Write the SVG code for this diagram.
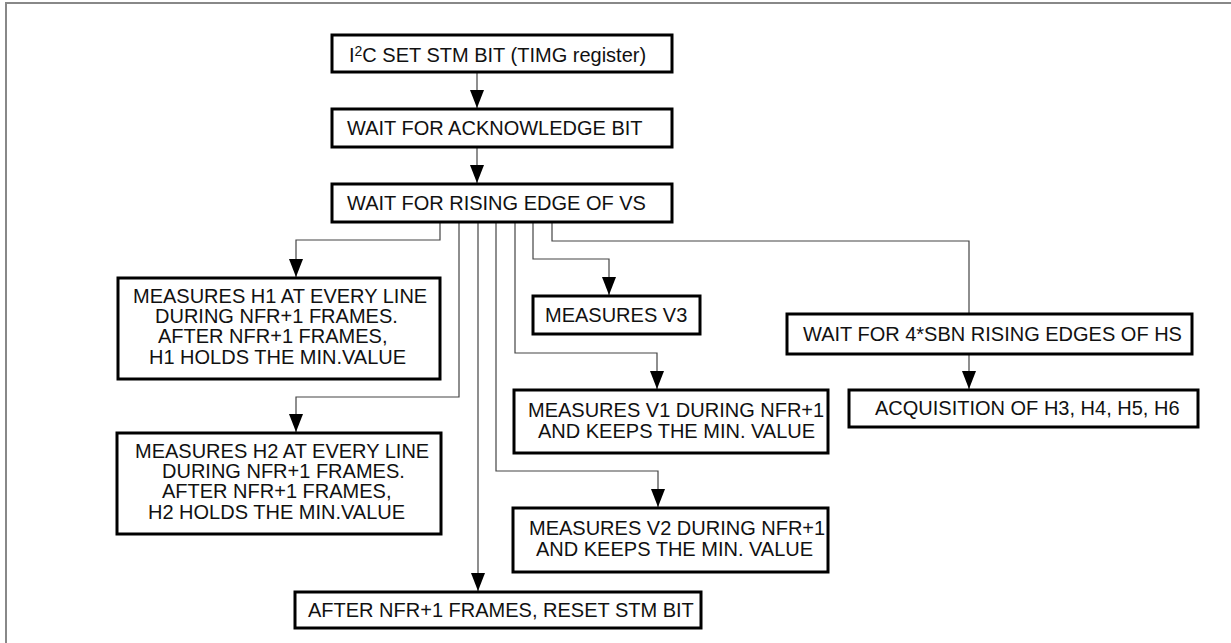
<svg xmlns="http://www.w3.org/2000/svg" width="1231" height="643" viewBox="0 0 1231 643">
<defs>
<marker id="ah" markerUnits="userSpaceOnUse" markerWidth="19" markerHeight="15" refX="18" refY="7" orient="auto">
<path d="M0,0 L18,7 L0,14 z" fill="#000"/>
</marker>
<style>
.box{fill:#fff;stroke:#000;stroke-width:3}
.t{font-family:"Liberation Sans",Arial,sans-serif;font-size:20px;fill:#111}
.c{fill:none;stroke:#444;stroke-width:1.2}
.a{marker-end:url(#ah)}
.frame{fill:none;stroke:#888;stroke-width:2}
</style>
</defs>
<rect width="1231" height="643" fill="#fff"/>
<path class="frame" d="M6,643 V3 H1231"/>
<g id="connectors">
<path class="c a" d="M477,72 V108"/>
<path class="c a" d="M477,147 V183"/>
<path class="c a" d="M440,222 V240 H296 V277"/>
<path class="c a" d="M459,222 V397 H296 V432"/>
<path class="c a" d="M478,222 V591"/>
<path class="c a" d="M496,222 V471 H658 V507"/>
<path class="c a" d="M515,222 V353 H657 V389"/>
<path class="c a" d="M533,222 V259 H609 V295"/>
<path class="c" d="M552,222 V241 H969 V314"/>
<path class="c a" d="M969,354 V389"/>
</g>
<g id="n-set-stm">
<rect class="box" x="332" y="35" width="340" height="37"/>
<text class="t" x="349" y="62">I<tspan dy="-6" font-size="14">2</tspan><tspan dy="6">C SET STM BIT (TIMG register)</tspan></text>
</g>
<g id="n-ack">
<rect class="box" x="332" y="109" width="340" height="38"/>
<text class="t" x="347" y="135">WAIT FOR ACKNOWLEDGE BIT</text>
</g>
<g id="n-vs">
<rect class="box" x="332" y="184" width="340" height="38"/>
<text class="t" x="347" y="210">WAIT FOR RISING EDGE OF VS</text>
</g>
<g id="n-h1">
<rect class="box" x="118" y="278" width="322" height="101"/>
<text class="t" x="133" y="303">MEASURES H1 AT EVERY LINE</text>
<text class="t" x="155" y="323">DURING NFR+1 FRAMES.</text>
<text class="t" x="158" y="343">AFTER NFR+1 FRAMES,</text>
<text class="t" x="149" y="364">H1 HOLDS THE MIN.VALUE</text>
</g>
<g id="n-h2">
<rect class="box" x="117" y="433" width="324" height="101"/>
<text class="t" x="135" y="458">MEASURES H2 AT EVERY LINE</text>
<text class="t" x="162" y="478">DURING NFR+1 FRAMES.</text>
<text class="t" x="162" y="498">AFTER NFR+1 FRAMES,</text>
<text class="t" x="148" y="519">H2 HOLDS THE MIN.VALUE</text>
</g>
<g id="n-v3">
<rect class="box" x="533" y="296" width="167" height="38"/>
<text class="t" x="545" y="322">MEASURES V3</text>
</g>
<g id="n-v1">
<rect class="box" x="514" y="390" width="314" height="63"/>
<text class="t" x="528" y="417">MEASURES V1 DURING NFR+1</text>
<text class="t" x="538" y="438">AND KEEPS THE MIN. VALUE</text>
</g>
<g id="n-v2">
<rect class="box" x="513" y="508" width="315" height="64"/>
<text class="t" x="529" y="535">MEASURES V2 DURING NFR+1</text>
<text class="t" x="536" y="556">AND KEEPS THE MIN. VALUE</text>
</g>
<g id="n-hs">
<rect class="box" x="787" y="314" width="405" height="40"/>
<text class="t" x="803" y="341">WAIT FOR 4*SBN RISING EDGES OF HS</text>
</g>
<g id="n-acq">
<rect class="box" x="849" y="390" width="349" height="37"/>
<text class="t" x="875" y="415">ACQUISITION OF H3, H4, H5, H6</text>
</g>
<g id="n-reset">
<rect class="box" x="295" y="592" width="406" height="36"/>
<text class="t" x="308" y="617">AFTER NFR+1 FRAMES, RESET STM BIT</text>
</g>
</svg>
